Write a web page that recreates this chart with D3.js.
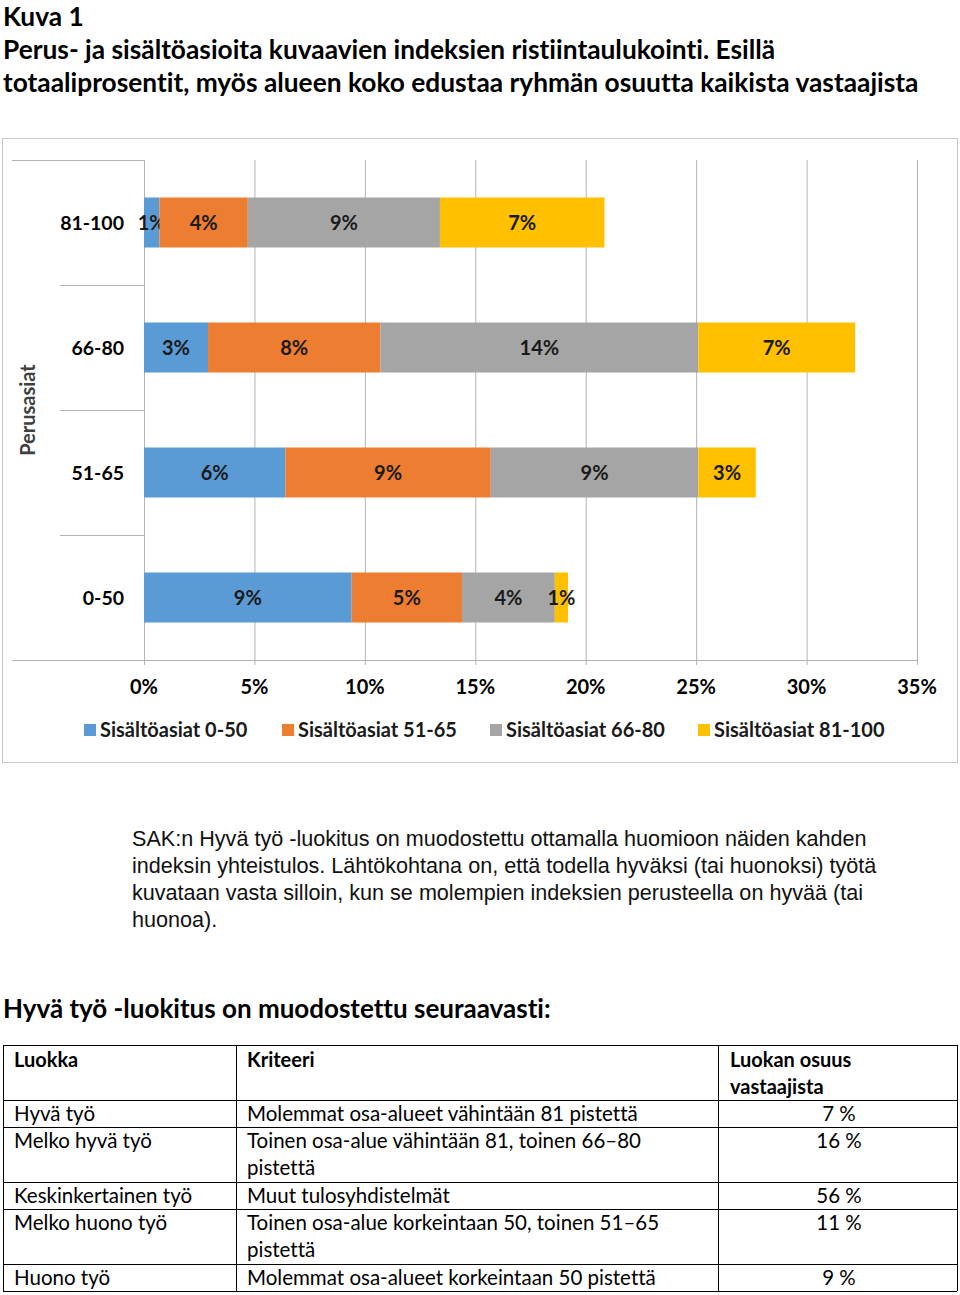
<!DOCTYPE html>
<html><head><meta charset="utf-8">
<script src="https://cdn.jsdelivr.net/npm/d3@7"></script>
<style>body{margin:0;background:#fff}svg{display:block}text{font-variant-ligatures:none;font-feature-settings:"liga" 0,"clig" 0}</style>
</head><body>
<svg id="c" width="960" height="1295"></svg>
<script>
const categories = ["81-100","66-80","51-65","0-50"];
const seriesNames = ["Sisältöasiat 0-50","Sisältöasiat 51-65","Sisältöasiat 66-80","Sisältöasiat 81-100"];
const s0050 = [0.7, 2.9, 6.4, 9.4];
const s5165 = [4.0, 7.8, 9.3, 5.0];
const s6680 = [8.7, 14.4, 9.4, 4.2];
const s81100 = [7.45, 7.1, 2.6, 0.6];
const xTicks = [0,5,10,15,20,25,30,35];
const colors = ["#5b9bd5","#ed7d31","#a5a5a5","#ffc000"];
const tableHeader = ["Luokka","Kriteeri","Luokan osuus|vastaajista"];
const tableClass = ["Hyvä työ","Melko hyvä työ","Keskinkertainen työ","Melko huono työ","Huono työ"];
const tableCrit = ["Molemmat osa-alueet vähintään 81 pistettä","Toinen osa-alue vähintään 81, toinen 66–80|pistettä","Muut tulosyhdistelmät","Toinen osa-alue korkeintaan 50, toinen 51–65|pistettä","Molemmat osa-alueet korkeintaan 50 pistettä"];
const tableShare = ["7 %","16 %","56 %","11 %","9 %"];

const svg = d3.select("#c");
const F = "Lato, 'Open Sans', sans-serif";
// titles
const titleLines = ["Kuva 1","Perus- ja sisältöasioita kuvaavien indeksien ristiintaulukointi. Esillä","totaaliprosentit, myös alueen koko edustaa ryhmän osuutta kaikista vastaajista"];
const titleY = [26,59,92];
titleLines.forEach((t,i)=>svg.append("text").attr("x",3).attr("y",titleY[i]).attr("font-family",F).attr("font-weight","bold").attr("font-size",26.3).text(t));

// chart frame
svg.append("rect").attr("x",2.5).attr("y",138.5).attr("width",955).attr("height",624).attr("fill","none").attr("stroke","#c8c8c8");

const x = d3.scaleLinear().domain([0,35]).range([144,917]);
const y = d3.scaleBand().domain(categories).range([160,660]).paddingInner(0.6).paddingOuter(0.3);
const g = svg.append("g");
// gridlines
g.selectAll(".grid").data(xTicks).join("line").attr("x1",d=>x(d)+0.5).attr("x2",d=>x(d)+0.5).attr("y1",160).attr("y2",665).attr("stroke","#b3b3b3");
// x axis line
g.append("line").attr("x1",12).attr("x2",x(35)).attr("y1",660.5).attr("y2",660.5).attr("stroke","#b3b3b3");
// category separators
const bounds = [160,285,410,535];
g.selectAll(".sep").data(bounds).join("line").attr("x1",(d,i)=>i===0?12:60).attr("x2",144).attr("y1",d=>d+0.5).attr("y2",d=>d+0.5).attr("stroke","#b3b3b3");
// x tick labels
g.selectAll(".xt").data(xTicks).join("text").attr("x",d=>x(d)).attr("y",694).attr("text-anchor","middle").attr("font-family",F).attr("font-weight","bold").attr("font-size",20).text(d=>d+"%");
// category labels
g.selectAll(".cl").data(categories).join("text").attr("x",124).attr("y",d=>y(d)+y.bandwidth()/2+7).attr("text-anchor","end").attr("font-family",F).attr("font-weight","bold").attr("font-size",19.5).text(d=>d);
// y title
svg.append("text").attr("transform","translate(35,410) rotate(-90)").attr("text-anchor","middle").attr("font-family",F).attr("font-weight","bold").attr("font-size",20).attr("fill","#404040").text("Perusasiat");

const table = categories.map((c,i)=>({cat:c, v:[s0050[i],s5165[i],s6680[i],s81100[i]]}));
const stack = d3.stack().keys([0,1,2,3]).value((d,k)=>d.v[k]);
const layers = stack(table);
layers.forEach((layer,k)=>{
  const lg = g.append("g");
  lg.selectAll("rect").data(layer).join("rect").attr("x",d=>x(d[0])).attr("width",d=>x(d[1])-x(d[0])).attr("y",d=>y(d.data.cat)).attr("height",y.bandwidth()).attr("fill",colors[k]);
  lg.selectAll("text").data(layer).join("text").attr("x",d=>(x(d[0])+x(d[1]))/2).attr("y",d=>y(d.data.cat)+y.bandwidth()/2+7).attr("text-anchor","middle").attr("font-family",F).attr("font-weight","bold").attr("font-size",20).attr("fill","#1a1a1a").text(d=>Math.round(d[1]-d[0])+"%");
});
// legend
const legX = [84,282,490,698];
seriesNames.forEach((n,i)=>{
  svg.append("rect").attr("x",legX[i]).attr("y",724).attr("width",12).attr("height",12).attr("fill",colors[i]);
  svg.append("text").attr("x",legX[i]+16).attr("y",737).attr("font-family",F).attr("font-weight","bold").attr("font-size",20).attr("fill","#1a1a1a").text(n);
});

// paragraph
const para = ["SAK:n Hyvä työ -luokitus on muodostettu ottamalla huomioon näiden kahden","indeksin yhteistulos. Lähtökohtana on, että todella hyväksi (tai huonoksi) työtä","kuvataan vasta silloin, kun se molempien indeksien perusteella on hyvää (tai","huonoa)."];
para.forEach((t,i)=>svg.append("text").attr("x",132).attr("y",846+i*27).attr("font-family","'Liberation Sans', Arial, sans-serif").attr("font-size",21.6).attr("fill","#111").text(t));

svg.append("text").attr("x",3).attr("y",1018).attr("font-family",F).attr("font-weight","bold").attr("font-size",26).text("Hyvä työ -luokitus on muodostettu seuraavasti:");

// table
const colX = [3,236,718,957];
const rowY = [1045,1100,1127,1182,1209,1264,1291];
const tg = svg.append("g").attr("stroke","#000");
rowY.forEach(yy=>tg.append("line").attr("x1",colX[0]).attr("x2",colX[3]).attr("y1",yy+0.5).attr("y2",yy+0.5));
colX.forEach(xx=>tg.append("line").attr("x1",xx+0.5).attr("x2",xx+0.5).attr("y1",rowY[0]).attr("y2",rowY[6]));
function cell(txt,xx,yy,anchor,bold){
  txt.split("|").forEach((t,j)=>svg.append("text").attr("x",xx).attr("y",yy+j*27).attr("text-anchor",anchor).attr("font-family",F).attr("font-weight",bold?"bold":"normal").attr("font-size",bold?20:20.5).attr("fill","#000").text(t));
}
cell(tableHeader[0],14,1067,"start",true);
cell(tableHeader[1],247,1067,"start",true);
cell(tableHeader[2],730,1067,"start",true);
tableClass.forEach((c,i)=>{
  const yy = rowY[i+1]+21;
  cell(c,14,yy,"start",false);
  cell(tableCrit[i],247,yy,"start",false);
  cell(tableShare[i],839,yy,"middle",false);
});
</script>
</body></html>
